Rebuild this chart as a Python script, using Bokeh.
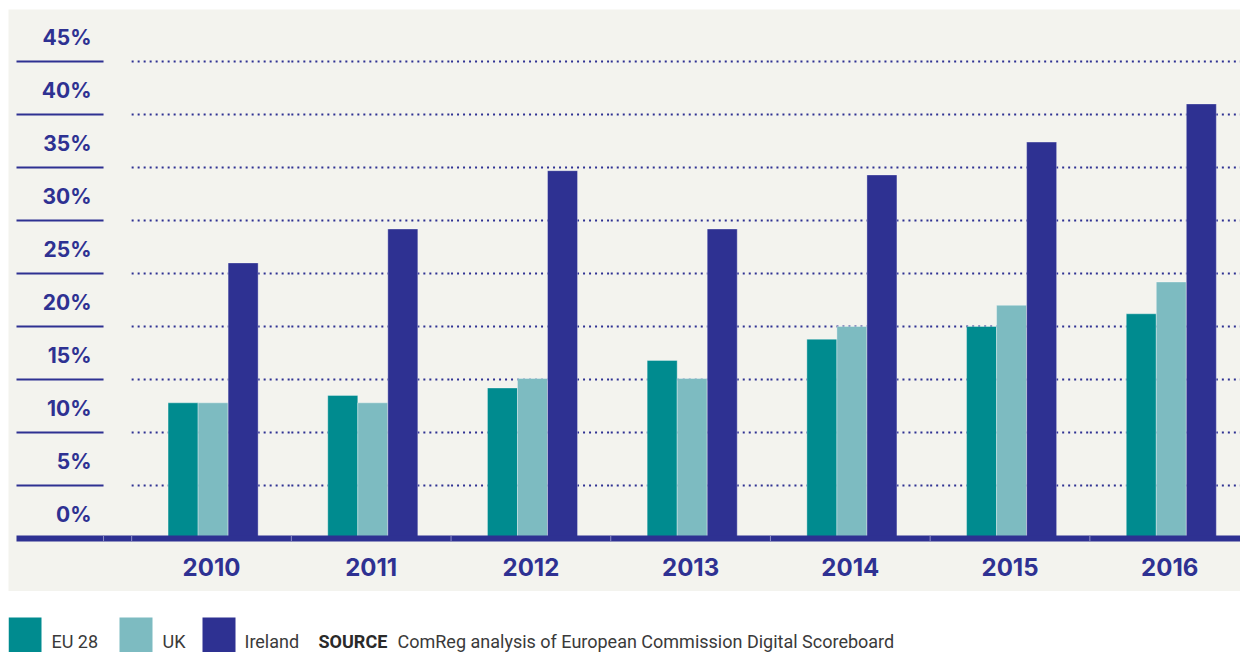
from bokeh.plotting import figure
from bokeh.models import Range1d, ColumnDataSource
from bokeh.layouts import column
from bokeh.core.properties import value
from bokeh.embed import file_html
from bokeh.resources import INLINE

# ---- data ----
years = ["2010", "2011", "2012", "2013", "2014", "2015", "2016"]
series = ["EU 28", "UK", "Ireland"]
eu28 = [12.8, 13.5, 14.2, 16.8, 18.8, 20.0, 21.2]
uk = [12.8, 12.8, 15.1, 15.1, 20.0, 22.0, 24.2]
ireland = [26.0, 29.2, 34.7, 29.2, 34.3, 37.4, 41.0]
ytick_values = [0, 5, 10, 15, 20, 25, 30, 35, 40, 45]
ytick_labels = ["0%", "5%", "10%", "15%", "20%", "25%", "30%", "35%", "40%", "45%"]
source_label = "SOURCE"
source_text = "ComReg analysis of European Commission Digital Scoreboard"

colors = ["#008b8f", "#7dbbc1", "#2e3192"]
NAVY = "#2e3192"
BG = "#f3f3ee"

# ---- main chart ----
p = figure(width=1240, height=591, x_range=Range1d(-1.2711, 6.4433),
           y_range=Range1d(-5.0, 49.906), output_backend="svg",
           toolbar_location=None, x_axis_location=None, y_axis_location=None,
           min_border=0, min_border_left=8, min_border_top=9,
           background_fill_color=BG, border_fill_color="white")
p.outline_line_color = None
p.xgrid.visible = False
p.ygrid.visible = False

idx = list(range(len(years)))
src = ColumnDataSource(dict(x=idx, years=years, eu28=eu28, uk=uk, ireland=ireland))

# left short solid tick lines and dotted gridlines
grid_vals = [v for v in ytick_values if v > 0]
p.segment(x0=[-1.221] * len(grid_vals), x1=[-0.676] * len(grid_vals),
          y0=grid_vals, y1=grid_vals, line_color=NAVY, line_width=2)
gx0, gx1, gy = [], [], []
for v in grid_vals:
    for i in idx:
        gx0.append(i - 0.5)
        gx1.append(i + 0.5)
        gy.append(v)
p.segment(x0=gx0, x1=gx1, y0=gy, y1=gy, line_color=NAVY, line_width=2,
          line_dash="2 4")

# bars
offsets = [-0.178, 0.010, 0.198]
fields = ["eu28", "uk", "ireland"]
for f, off, c in zip(fields, offsets, colors):
    p.vbar(x=[i + off for i in idx], top=src.data[f], bottom=0, width=0.188,
           fill_color=c, line_color="white", line_alpha=0.35, line_width=1)

# baseline axis bar
p.quad(left=[-1.221], right=[7.0], bottom=[-0.28], top=[0.28],
       fill_color=NAVY, line_color=None)
sep_x = [-0.676] + [i - 0.5 for i in idx] + [6.5]
p.segment(x0=sep_x, x1=sep_x, y0=[-0.28] * len(sep_x), y1=[0.28] * len(sep_x),
          line_color="#8c8dc6", line_width=1)

# y labels (placed in band above each line)
p.text(x=[-0.7514] * len(ytick_values), y=[v + 2.3 for v in ytick_values],
       text=ytick_labels, text_font=value("Inter"), text_font_style="bold",
       text_font_size="21px", text_color=NAVY, text_align="right",
       text_baseline="middle")

# year labels
p.text(x=idx, y=[-2.69] * len(idx), text=years, text_font=value("Inter"),
       text_font_style="bold", text_font_size="24px", text_color=NAVY,
       text_align="center", text_baseline="middle")

# ---- legend / source row ----
lg = figure(width=1240, height=61, x_range=Range1d(8, 1240),
            y_range=Range1d(652, 591), output_backend="svg",
            toolbar_location=None, x_axis_location=None, y_axis_location=None,
            min_border=0, min_border_left=8, background_fill_color="white",
            border_fill_color="white")
lg.outline_line_color = None
lg.xgrid.visible = False
lg.ygrid.visible = False

sw_left = [8, 119, 202]
lg.quad(left=sw_left, right=[l + 33 for l in sw_left], top=[617] * 3,
        bottom=[662] * 3, fill_color=colors, line_color=None)
lg.text(x=[51, 162, 244], y=[641] * 3, text=series, text_font=value("Roboto"),
        text_font_size="18px", text_color="#3a3a3a", text_baseline="middle")
lg.text(x=[318], y=[641], text=[source_label], text_font=value("Roboto"),
        text_font_style="bold", text_font_size="18px", text_color="#2a2a2a",
        text_baseline="middle")
lg.text(x=[397], y=[641], text=[source_text], text_font=value("Roboto"),
        text_font_size="18px", text_color="#3a3a3a", text_baseline="middle")

layout = column(p, lg, spacing=0)
open("out.html", "w").write(file_html(layout, INLINE))
